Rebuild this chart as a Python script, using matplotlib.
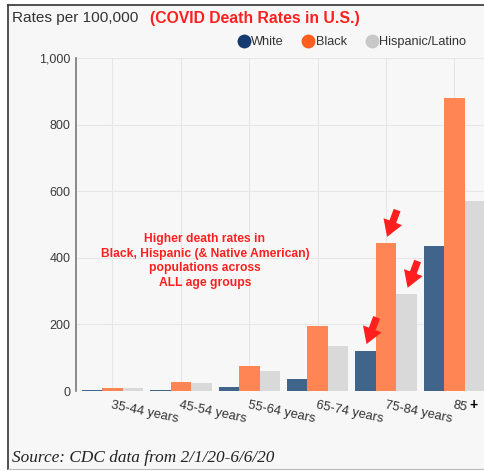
import matplotlib
matplotlib.use("Agg")
import matplotlib.pyplot as plt
from matplotlib.lines import Line2D
import numpy as np

# Age groups and COVID death rates per 100,000 (CDC, 2/1/20 - 6/6/20)
age_groups = ["35-44 years", "45-54 years", "55-64 years", "65-74 years", "75-84 years", "85"]
white = [3, 4, 12, 37, 121, 436]
black = [10, 28, 75, 196, 443, 879]
hispanic = [8, 23, 59, 135, 290, 572]
series_names = ["White", "Black", "Hispanic/Latino"]
y_ticks = [0, 200, 400, 600, 800, 1000]

bar_colors = ["#41658A", "#FF8555", "#D9D9D9"]
legend_colors = ["#163A70", "#FF5E1F", "#C8C8C8"]
bg = "#F7F7F7"
red = "#FF1F1F"

W, H = 485, 471
fig = plt.figure(figsize=(W / 100, H / 100), dpi=100, facecolor="white")
plt.rcParams["font.family"] = ["Liberation Sans", "DejaVu Sans"]

# framed panel
panel = fig.add_axes([8 / W, 2 / H, 1 - 8 / W, (469 - 5) / H])
panel.set_facecolor(bg)
panel.set_xticks([])
panel.set_yticks([])
panel.spines["right"].set_visible(False)
for side in ["left", "top"]:
    panel.spines[side].set_color("#333333")
    panel.spines[side].set_linewidth(1.2)
panel.spines["bottom"].set_color("#BBBBBB")
panel.set_zorder(0)

# chart axes
ax_left, ax_right = 76, 485
ax_bottom, ax_top = 391, 58
ax = fig.add_axes([ax_left / W, (H - ax_bottom) / H,
                   (ax_right - ax_left) / W, (ax_bottom - ax_top) / H])
ax.patch.set_alpha(0)
ax.set_zorder(1)

x = np.arange(len(age_groups))
bw = 0.3
for i, (vals, col) in enumerate(zip([white, black, hispanic], bar_colors)):
    ax.bar(x + (i - 1) * bw, vals, width=bw, color=col, zorder=3, linewidth=0)

ax.set_ylim(0, 1000)
ax.set_xlim((ax_left - 112.5) / 68.4, (ax_right - 112.5) / 68.4)
ax.set_yticks(y_ticks)
ax.set_yticklabels([f"{v:,}" for v in y_ticks], color="#3A3A3A", fontsize=9.0)
ax.tick_params(axis="y", length=0, pad=4)
ax.set_xticks(x)
ax.set_xticklabels(age_groups, rotation=-12, rotation_mode="anchor",
                   ha="left", va="top", color="#333333", fontsize=9.3)
ax.tick_params(axis="x", length=0, pad=6)
ax.grid(True, color="#E6E6E6", linewidth=0.8, zorder=0)
for side in ["top", "right", "bottom"]:
    ax.spines[side].set_visible(False)
ax.spines["left"].set_color("#777777")
ax.spines["left"].set_linewidth(1.2)

# bold plus sign after the last age group
fig.text(474 / W, 1 - 405 / H, "+", fontsize=10, fontweight="bold",
         color="black", ha="center", va="center")

# arrows pointing at the 75-84 bars
arrow_targets = [(4 - bw, white[4]), (4, black[4]), (4 + bw, hispanic[4])]
for bx, val in arrow_targets:
    ax.annotate("", xy=(bx, val + 12), xytext=(12, 32), textcoords="offset pixels",
                arrowprops=dict(arrowstyle="simple,head_width=1.1,head_length=0.9,tail_width=0.4",
                                mutation_scale=13, color=red, lw=0),
                zorder=5)

# annotation
ax.text((205 - 112.5) / 68.4, (391 - 261) / 0.333,
        "Higher death rates in\nBlack, Hispanic (& Native American)\npopulations across\nALL age groups",
        ha="center", va="center", color=red, fontsize=8.7, fontweight="bold",
        linespacing=1.3, zorder=6)

# titles
fig.text(12 / W, 1 - 18 / H, "Rates per 100,000", fontsize=11.1, color="#333333",
         ha="left", va="center")
fig.text(150 / W, 1 - 18 / H, "(COVID Death Rates in U.S.)", fontsize=11.3,
         fontweight="bold", color=red, ha="left", va="center")

# legend
handles = [Line2D([], [], marker="o", linestyle="", markersize=10,
                  markerfacecolor=c, markeredgewidth=0) for c in legend_colors]
fig.legend(handles, series_names, loc="center left", bbox_to_anchor=(238 / W, 1 - 42 / H),
           ncol=3, frameon=False, fontsize=9.2, handletextpad=0.15, columnspacing=1.45,
           handlelength=0.9, borderaxespad=0, borderpad=0, labelcolor="#333333")

# source
fig.text(12 / W, 1 - 458 / H, "Source: CDC data from 2/1/20-6/6/20",
         family="Liberation Serif", style="italic", fontsize=12.4, color="#222222",
         ha="left", va="center")

fig.savefig("out.png", dpi=100, facecolor="white")
